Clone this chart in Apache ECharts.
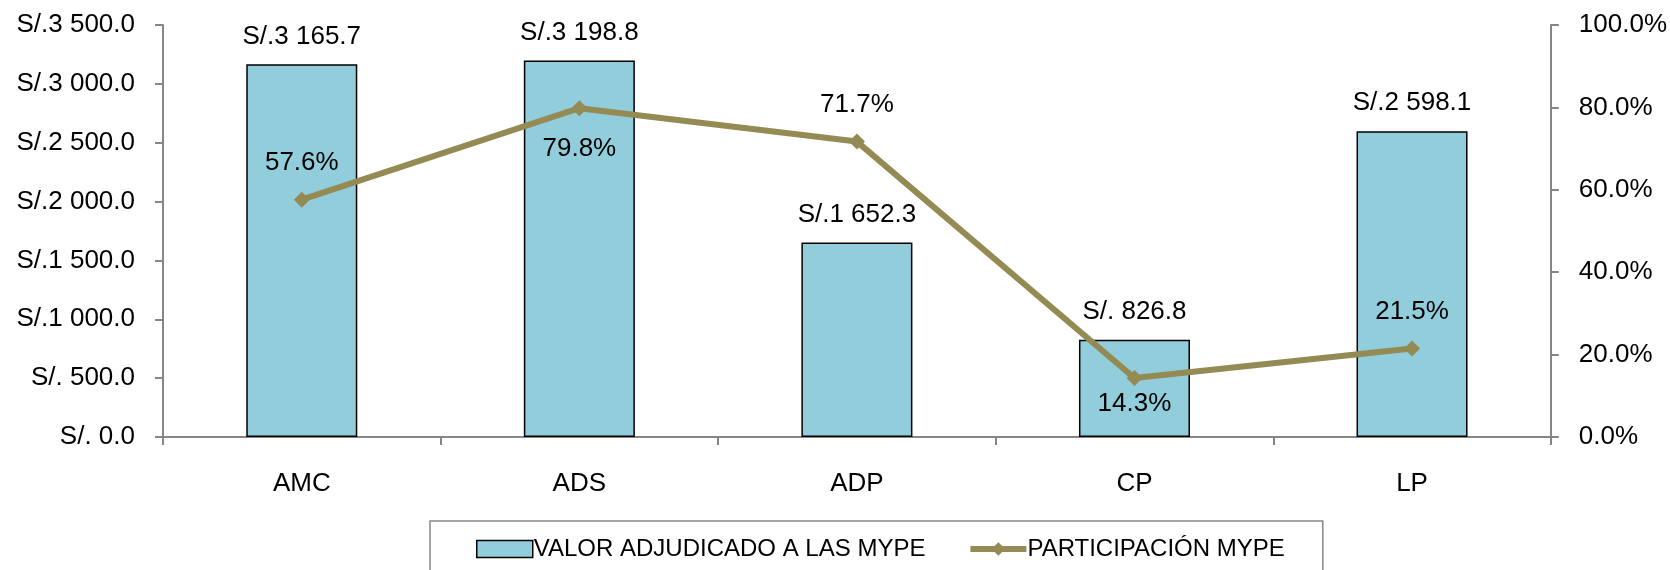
<!DOCTYPE html>
<html>
<head>
<meta charset="utf-8">
<script src="https://cdn.jsdelivr.net/npm/echarts@6/dist/echarts.min.js"></script>
<style>
  html, body { margin: 0; padding: 0; background: #fff; }
  #chart { width: 1670px; height: 570px; }
</style>
</head>
<body>
<div id="chart"></div>
<script>
var categories = ['AMC', 'ADS', 'ADP', 'CP', 'LP'];
var valorMype = [3165.7, 3198.8, 1652.3, 826.8, 2598.1];
var participacion = [57.6, 79.8, 71.7, 14.3, 21.5];

var barName = 'VALOR ADJUDICADO A LAS MYPE';
var lineName = 'PARTICIPACIÓN MYPE';

const olive = '#948A54';
const aqua = '#92CDDC';
const axisGray = '#868686';
const font = 'Liberation Sans';
const fs = 26;

// Excel style "S/.# ##0.0"
function soles(v) {
  var s = Number(v).toFixed(1);
  var parts = s.split('.');
  var ent = parts[0];
  var miles = ent.length > 3 ? ent.slice(0, ent.length - 3) : '';
  var resto = ent.length > 3 ? ent.slice(-3) : ent;
  return 'S/.' + miles + ' ' + resto + '.' + parts[1];
}

// where each percentage label sits, as in the original
var labelPlace = {
  AMC: ['top', 16],
  ADS: ['bottom', 20],
  ADP: ['top', 16],
  CP: ['bottom', 5],
  LP: ['top', 16]
};

var lineData = participacion.map(function (v, i) {
  var p = labelPlace[categories[i]];
  return { value: v, label: { position: p[0], distance: p[1] } };
});

var myChart = echarts.init(document.getElementById('chart'), null, {renderer: 'canvas'});

var option = {
  animation: false,
  textStyle: { fontFamily: font, color: '#000' },
  grid: { left: 163, right: 118, top: 25, bottom: 133 },
  legend: {
    left: 430,
    top: 521,
    padding: [16, 38, 40, 46],
    borderColor: axisGray,
    borderWidth: 1.5,
    itemGap: 42,
    itemWidth: 56,
    itemHeight: 17,
    textStyle: { fontFamily: font, fontSize: 24, color: '#000', padding: [0, 0, 0, -4] },
    data: [
      { name: barName, icon: 'rect', itemStyle: { color: aqua, borderColor: '#000', borderWidth: 1.5 } },
      { name: lineName, lineStyle: { width: 6, color: olive }, itemStyle: { color: olive } }
    ]
  },
  xAxis: {
    type: 'category',
    data: categories,
    boundaryGap: true,
    axisLine: { lineStyle: { color: axisGray, width: 2 } },
    axisTick: { show: true, interval: 0, length: 8, lineStyle: { color: axisGray, width: 2 } },
    axisLabel: { fontFamily: font, fontSize: fs, color: '#000', margin: 34 }
  },
  yAxis: [
    {
      type: 'value',
      min: 0,
      max: 3500,
      interval: 500,
      splitLine: { show: false },
      axisLine: { show: true, lineStyle: { color: axisGray, width: 2 } },
      axisTick: { show: true, length: 8, lineStyle: { color: axisGray, width: 2 } },
      axisLabel: { fontFamily: font, fontSize: fs, color: '#000', margin: 28, formatter: soles }
    },
    {
      type: 'value',
      position: 'right',
      min: 0,
      max: 100,
      interval: 20,
      splitLine: { show: false },
      axisLine: { show: true, lineStyle: { color: axisGray, width: 2 } },
      axisTick: { show: true, length: 8, lineStyle: { color: axisGray, width: 2 } },
      axisLabel: {
        fontFamily: font, fontSize: fs, color: '#000', margin: 28,
        formatter: function (v) { return v.toFixed(1) + '%'; }
      }
    }
  ],
  series: [
    {
      name: barName,
      type: 'bar',
      data: valorMype,
      barWidth: '40%',
      itemStyle: { color: aqua, borderColor: '#000', borderWidth: 1.5 },
      label: {
        show: true,
        position: 'top',
        distance: 15,
        fontFamily: font,
        fontSize: fs,
        color: '#000',
        formatter: function (p) { return soles(p.value); }
      }
    },
    {
      name: lineName,
      type: 'line',
      yAxisIndex: 1,
      data: lineData,
      symbol: 'diamond',
      symbolSize: 16,
      lineStyle: { color: olive, width: 6 },
      itemStyle: { color: olive },
      label: {
        show: true,
        fontFamily: font,
        fontSize: fs,
        color: '#000',
        formatter: function (p) { return p.value.toFixed(1) + '%'; }
      }
    }
  ]
};

myChart.setOption(option);
</script>
</body>
</html>
